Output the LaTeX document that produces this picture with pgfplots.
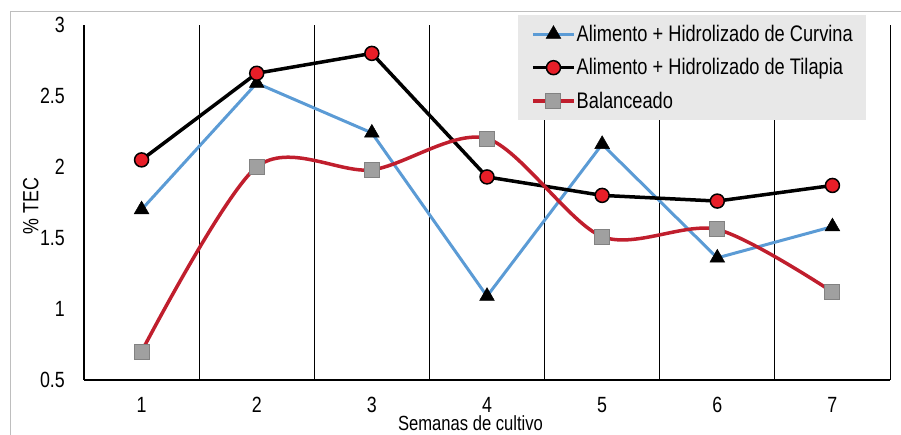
\documentclass[border=0pt]{standalone}
\usepackage{fontspec}
\setmainfont{Liberation Sans}[FakeStretch=0.81]
\usepackage{pgfplots}
\pgfplotsset{compat=1.18}
\definecolor{cblue}{RGB}{91,155,213}
\definecolor{cred}{RGB}{192,30,45}
\definecolor{mred}{RGB}{232,30,40}
\definecolor{mgray}{RGB}{160,160,160}
\definecolor{mgraydark}{RGB}{130,130,130}
\definecolor{leggray}{RGB}{232,232,232}
\definecolor{framegray}{RGB}{190,190,190}
\begin{document}
\begin{tikzpicture}[x=1pt,y=1pt]
\useasboundingbox (0,0) rectangle (901,435);
\draw[framegray, line width=1pt] (10,-20) -- (10,423) -- (920,423);
\begin{axis}[
 at={(84pt,55pt)}, anchor=south west,
 scale only axis, width=806pt, height=355pt,
 xmin=0.5, xmax=7.5, ymin=0.5, ymax=3,
 axis lines*=left,
 axis line style={black, line width=1.2pt},
 xtick={1,...,7}, xticklabels={1,2,3,4,5,6,7},
 ytick={0.5,1,1.5,2,2.5,3}, yticklabels={0.5,1,1.5,2,2.5,3},
 major tick length=0pt,
 extra x ticks={1.5,2.5,3.5,4.5,5.5,6.5,7.5},
 extra x tick labels={},
 extra x tick style={grid=major, major grid style={black, line width=1pt}},
 tick label style={font=\fontsize{22}{24}\selectfont, inner sep=0pt},
 yticklabel style={anchor=east, xshift=-19pt},
 xticklabel style={anchor=north, yshift=-17pt},
 xlabel={Semanas de cultivo},
 ylabel={\% TEC},
 label style={font=\fontsize{22}{24}\selectfont},
 xlabel style={font=\fontsize{20.5}{22}\selectfont, at={(axis description cs:0.4795,0)}, anchor=base, yshift=-51pt, inner sep=0pt},
 ylabel style={at={(axis description cs:-0.066,0.49)}, anchor=center, inner sep=0pt},
 clip=false,
 legend style={at={(axis description cs:0.5385,1.0282)}, anchor=north west, fill=leggray, draw=none,
   font=\fontsize{22.5}{24}\selectfont, inner xsep=13pt, inner ysep=9pt, row sep=13.5pt,
   nodes={inner sep=0pt, text height=17pt, text depth=3pt},
   cells={anchor=west},
   /tikz/every odd column/.append style={column sep=1pt}},
 legend image code/.code={\draw[mark repeat=2,mark phase=2,#1] plot coordinates {(0pt,0pt) (20.5pt,0pt) (41pt,0pt)};},
]
\addplot[cblue, line width=3pt, mark=triangle*, mark size=8.5pt, mark options={fill=black, draw=black, line width=0.5pt}]
 coordinates {(1,1.70) (2,2.59) (3,2.24) (4,1.09) (5,2.16) (6,1.36) (7,1.58)};
\addlegendentry{Alimento + Hidrolizado de Curvina}
\addplot[black, line width=3.5pt, mark=*, mark size=7pt, mark options={fill=mred, draw=black, line width=1.5pt}]
 coordinates {(1,2.05) (2,2.66) (3,2.80) (4,1.93) (5,1.80) (6,1.76) (7,1.87)};
\addlegendentry{Alimento + Hidrolizado de Tilapia}
\addplot[cred, line width=3.5pt, smooth, mark=square*, mark size=7.5pt, mark options={fill=mgray, draw=mgraydark, line width=1pt}]
 coordinates {(1,0.70) (2,2.00) (3,1.98) (4,2.20) (5,1.51) (6,1.56) (7,1.12)};
\addlegendentry{Balanceado}
\end{axis}
\end{tikzpicture}
\end{document}
